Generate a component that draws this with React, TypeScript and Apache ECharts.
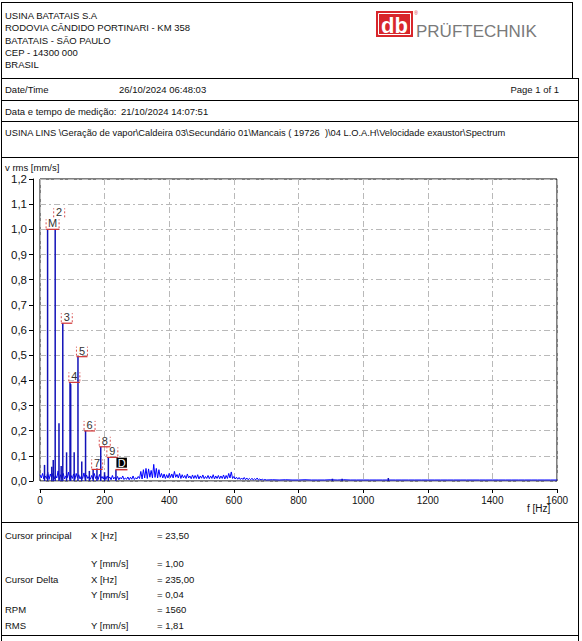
import React, { useEffect, useRef } from "react";
import * as echarts from "echarts";

const FONT = "'Liberation Sans', Arial, Helvetica, sans-serif";

const companyLines = [
  "USINA BATATAIS S.A",
  "RODOVIA CÂNDIDO PORTINARI - KM 358",
  "BATATAIS - SÃO PAULO",
  "CEP - 14300 000",
  "BRASIL",
];
const brandName = "PRÜFTECHNIK";
const reportDateLabel = "Date/Time";
const reportDate = "26/10/2024 06:48:03";
const pageLabel = "Page 1 of 1";
const measurementLabel = "Data e tempo de medição:";
const measurementDate = "21/10/2024 14:07:51";
const measurementPath =
  "USINA LINS \\Geração de vapor\\Caldeira 03\\Secundário 01\\Mancais ( 19726  )\\04 L.O.A.H\\Velocidade exaustor\\Spectrum";

const yAxisTitle = "v rms [mm/s]";
const xAxisTitle = "f [Hz]";
const xMin = 0;
const xMax = 1600;
const xStep = 200;
const yMin = 0;
const yMax = 1.2;
const yStep = 0.1;

// discrete spectral lines (Hz, mm/s)
const peakFreqs = [14, 23.5, 36.5, 41, 47, 58.75, 65.5, 70.5, 82.25, 93, 95, 105.75, 117.5, 129.25, 141, 152.75, 164.5, 176.25, 188, 199.75, 211.5, 235, 905, 935, 1078];
const peakValues = [0.064, 1.0, 0.057, 0.083, 1.0, 0.229, 0.06, 0.627, 0.114, 0.392, 0.385, 0.114, 0.494, 0.077, 0.199, 0.04, 0.046, 0.05, 0.136, 0.035, 0.094, 0.045, 0.009, 0.009, 0.012];

// cursor / harmonic markers
const markerLabels = ["M", "2", "3", "4", "5", "6", "7", "8", "9", "D"];
const markerFreqs = [23.5, 47, 70.5, 94, 117.5, 141, 164.5, 188, 211.5, 235];
const markerValues = [1.0, 1.0, 0.627, 0.392, 0.494, 0.199, 0.046, 0.136, 0.094, 0.045];

// noise floor, 0..700 Hz every 4 Hz
const noiseLowStartHz = 0;
const noiseLowStepHz = 4;
const noiseLowValues = [
  0.025, 0.012, 0.03, 0.008, 0.02, 0.01, 0.035, 0.006, 0.028, 0.012,
  0.03, 0.008, 0.022, 0.012, 0.04, 0.006, 0.025, 0.01, 0.03, 0.008,
  0.02, 0.012, 0.035, 0.007, 0.022, 0.01, 0.028, 0.006, 0.03, 0.012,
  0.025, 0.008, 0.02, 0.01, 0.032, 0.006, 0.024, 0.01, 0.018, 0.007,
  0.022, 0.008, 0.03, 0.01, 0.02, 0.006, 0.026, 0.01, 0.018, 0.008,
  0.024, 0.006, 0.02, 0.009, 0.016, 0.005, 0.022, 0.008, 0.015, 0.006,
  0.018, 0.005, 0.014, 0.008, 0.02, 0.006, 0.012, 0.007, 0.016, 0.005,
  0.015, 0.007, 0.02, 0.006, 0.013, 0.008, 0.018, 0.01, 0.038, 0.008,
  0.045, 0.012, 0.05, 0.01, 0.048, 0.015, 0.042, 0.012, 0.066, 0.014,
  0.05, 0.012, 0.045, 0.015, 0.03, 0.012, 0.028, 0.01, 0.025, 0.012,
  0.03, 0.014, 0.028, 0.012, 0.038, 0.015, 0.026, 0.012, 0.03, 0.01,
  0.025, 0.012, 0.022, 0.01, 0.028, 0.012, 0.02, 0.009, 0.024, 0.01,
  0.022, 0.01, 0.025, 0.008, 0.02, 0.011, 0.024, 0.009, 0.018, 0.01,
  0.022, 0.009, 0.02, 0.01, 0.025, 0.008, 0.02, 0.01, 0.022, 0.009,
  0.02, 0.01, 0.024, 0.008, 0.022, 0.01, 0.03, 0.012, 0.036, 0.01,
  0.018, 0.008, 0.015, 0.007, 0.014, 0.006, 0.012, 0.006, 0.014, 0.005,
  0.012, 0.005, 0.01, 0.005, 0.011, 0.004, 0.009, 0.005, 0.012, 0.004,
  0.008, 0.004, 0.007, 0.004, 0.006, 0.004,
];
// noise floor, 720..1600 Hz every 20 Hz
const noiseHighStartHz = 720;
const noiseHighStepHz = 20;
const noiseHighValues = [
  0.005, 0.004, 0.005, 0.004, 0.004, 0.005, 0.004, 0.004, 0.004, 0.005,
  0.004, 0.005, 0.004, 0.004, 0.004, 0.004, 0.004, 0.004, 0.004, 0.004,
  0.004, 0.004, 0.004, 0.004, 0.004, 0.004, 0.004, 0.004, 0.004, 0.004,
  0.004, 0.004, 0.004, 0.004, 0.004, 0.004, 0.004, 0.004, 0.004, 0.004,
  0.004, 0.004, 0.004, 0.004, 0.004,
];

const cursorNames = ["Cursor principal", "", "Cursor Delta", "", "RPM", "RMS"];
const cursorAxes = ["X [Hz]", "Y [mm/s]", "X [Hz]", "Y [mm/s]", "", "Y [mm/s]"];
const cursorValues = ["= 23,50", "= 1,00", "= 235,00", "= 0,04", "= 1560", "= 1,81"];

function hline(x1: number, x2: number, y: number) {
  return { type: "line", silent: true, shape: { x1, y1: y, x2, y2: y }, style: { stroke: "#000", lineWidth: 1 } };
}
function vline(x: number, y1: number, y2: number) {
  return { type: "line", silent: true, shape: { x1: x, y1, x2: x, y2 }, style: { stroke: "#000", lineWidth: 1 } };
}
function txt(text: string, x: number, y: number, size = 9.5, align = "left", fill = "#111") {
  return {
    type: "text",
    silent: true,
    x,
    y,
    style: { text, fontSize: size, fontFamily: FONT, fill, align, verticalAlign: "middle" },
  };
}

export default function App() {
  const ref = useRef<HTMLDivElement>(null);

  useEffect(() => {
    if (!ref.current) return;
    const chart = echarts.init(ref.current, undefined, { renderer: "svg" });

    const noiseData: number[][] = [];
    noiseLowValues.forEach((v, i) => noiseData.push([noiseLowStartHz + i * noiseLowStepHz, v]));
    noiseHighValues.forEach((v, i) => noiseData.push([noiseHighStartHz + i * noiseHighStepHz, v]));
    const peakData = peakFreqs.map((f, i) => [f, peakValues[i]]);
    const markerData = markerFreqs.map((f, i) => [f, markerValues[i]]);

    const labelW = (s: string) => (s === "M" ? 8 : 6);
    const boxH = 11;

    const markerBox = (api: any, i: number): any => {
      const p = api.coord([markerFreqs[i], markerValues[i]]);
      const w = labelW(markerLabels[i]) + 5;
      const box = { x: p[0] - 1.5, w, bottom: p[1], raised: false, p };
      if (i > 0 && markerLabels[i - 1] !== "D") {
        const prev = markerBox(api, i - 1);
        if (box.x < prev.x + prev.w && Math.abs(box.bottom - prev.bottom) < 3) {
          box.bottom = prev.bottom - boxH;
          box.raised = true;
        }
      }
      return box;
    };

    const graphics: any[] = [];
    // borders
    graphics.push(hline(1, 573, 2.5));
    graphics.push(vline(572.5, 2, 78));
    graphics.push(vline(1.5, 2, 641));
    graphics.push(vline(578.5, 78, 641));
    [78.5, 100.5, 121.5, 157.5, 522.5, 635.5].forEach((y) => graphics.push(hline(1, 579, y)));
    // header
    companyLines.forEach((s, i) => graphics.push(txt(s, 5, 15.7 + i * 12.25)));
    // logo
    graphics.push({ type: "rect", silent: true, shape: { x: 376, y: 11, width: 37, height: 26 }, style: { fill: "#d8262b" } });
    graphics.push({ type: "rect", silent: true, shape: { x: 378.5, y: 13.5, width: 32, height: 21 }, style: { fill: "none", stroke: "#fff", lineWidth: 1 } });
    graphics.push({
      type: "text", silent: true, x: 394.5, y: 25,
      style: { text: "db", fontSize: 22, fontWeight: "bold", fontFamily: FONT, fill: "#fff", align: "center", verticalAlign: "middle" },
    });
    graphics.push(txt("®", 416, 13, 5, "center", "#d8262b"));
    graphics.push({
      type: "text", silent: true, x: 416, y: 31.5,
      style: { text: brandName, fontSize: 17, fontFamily: FONT, fill: "#7a7a7a", align: "left", verticalAlign: "middle" },
    });
    // rows
    graphics.push(txt(reportDateLabel, 5, 89.5));
    graphics.push(txt(reportDate, 119, 89.5));
    graphics.push(txt(pageLabel, 559, 89.5, 9.5, "right"));
    graphics.push(txt(measurementLabel, 5, 111));
    graphics.push(txt(measurementDate, 121, 111));
    graphics.push(txt(measurementPath, 5, 133, 9.3));
    // axis titles
    graphics.push(txt(yAxisTitle, 5, 167.5));
    graphics.push(txt(xAxisTitle, 527, 508.5, 10));
    // cursor table
    const rowY = [535, 563.3, 579.5, 594.5, 609.5, 625];
    rowY.forEach((y, i) => {
      if (cursorNames[i]) graphics.push(txt(cursorNames[i], 5, y));
      if (cursorAxes[i]) graphics.push(txt(cursorAxes[i], 91, y));
      graphics.push(txt(cursorValues[i], 157, y));
    });

    const gridLine = { show: true, lineStyle: { color: "#b9b9b9", width: 1, type: [6, 3, 2, 3] } };

    chart.setOption({
      animation: false,
      backgroundColor: "#fff",
      textStyle: { fontFamily: FONT },
      grid: { left: 40, top: 179, width: 517, height: 302, show: true, borderColor: "#000", borderWidth: 1, backgroundColor: "transparent" },
      xAxis: {
        type: "value",
        min: xMin,
        max: xMax,
        interval: xStep,
        offset: 8,
        axisLine: { show: true, onZero: false, lineStyle: { color: "#000", width: 1 } },
        axisTick: { show: true, length: 4, lineStyle: { color: "#000" } },
        axisLabel: { color: "#111", fontSize: 10, margin: 6, fontFamily: FONT, formatter: (v: number) => String(v) },
        splitLine: gridLine,
      },
      yAxis: {
        type: "value",
        min: yMin,
        max: yMax,
        interval: yStep,
        offset: 7,
        axisLine: { show: true, onZero: false, lineStyle: { color: "#000", width: 1 } },
        axisTick: { show: true, length: 4, lineStyle: { color: "#000" } },
        axisLabel: {
          color: "#111",
          fontSize: 11.5,
          margin: 6,
          fontFamily: FONT,
          formatter: (v: number) => v.toFixed(1).replace(".", ","),
        },
        splitLine: gridLine,
      },
      graphic: graphics,
      series: [
        {
          type: "line",
          data: noiseData,
          showSymbol: false,
          symbol: "none",
          lineStyle: { color: "#0000ff", width: 1 },
          z: 2,
          silent: true,
        },
        {
          type: "custom",
          data: peakData,
          z: 3,
          silent: true,
          renderItem: (params: any, api: any) => {
            const top = api.coord([api.value(0), api.value(1)]);
            const base = api.coord([api.value(0), 0]);
            return {
              type: "line",
              shape: { x1: top[0], y1: base[1], x2: top[0], y2: top[1] },
              style: { stroke: "#1212b8", lineWidth: 1.5 },
            };
          },
        },
        {
          type: "custom",
          data: markerData,
          z: 4,
          silent: true,
          renderItem: (params: any, api: any) => {
            const i = params.dataIndex;
            const label = markerLabels[i];
            if (label === "D") {
              const p = api.coord([markerFreqs[i], markerValues[i]]);
              return {
                type: "group",
                children: [
                  { type: "line", shape: { x1: p[0] - 0.5, y1: p[1], x2: p[0] + 11.5, y2: p[1] }, style: { stroke: "#c83232", lineWidth: 1.5 } },
                  { type: "rect", shape: { x: p[0] + 0.5, y: p[1] - 12, width: 10.5, height: 10 }, style: { fill: "#000" } },
                  {
                    type: "text", x: p[0] + 5.75, y: p[1] - 6.8,
                    style: { text: "D", fill: "#fff", fontSize: 11, fontFamily: FONT, align: "center", verticalAlign: "middle" },
                  },
                ],
              };
            }
            const b = markerBox(api, i);
            const children: any[] = [];
            if (!b.raised) {
              children.push({ type: "line", shape: { x1: b.x, y1: b.bottom, x2: b.x + b.w, y2: b.bottom }, style: { stroke: "#d03030", lineWidth: 1.2 } });
            }
            const dash = { stroke: "#d85050", lineWidth: 1, lineDash: [2, 2] };
            children.push({ type: "line", shape: { x1: b.x, y1: b.bottom - 1, x2: b.x, y2: b.bottom - boxH + 1 }, style: dash });
            children.push({ type: "line", shape: { x1: b.x + b.w, y1: b.bottom - 1, x2: b.x + b.w, y2: b.bottom - boxH + 1 }, style: dash });
            children.push({
              type: "text", x: b.x + b.w / 2, y: b.bottom - boxH / 2 - 0.5,
              style: { text: label, fill: "#333", fontSize: 11, fontFamily: FONT, align: "center", verticalAlign: "middle" },
            });
            return { type: "group", children };
          },
        },
      ],
    });

    return () => chart.dispose();
  }, []);

  return (
    <div
      ref={ref}
      style={{ position: "fixed", left: 0, top: 0, width: 582, height: 641, background: "#fff" }}
    />
  );
}
